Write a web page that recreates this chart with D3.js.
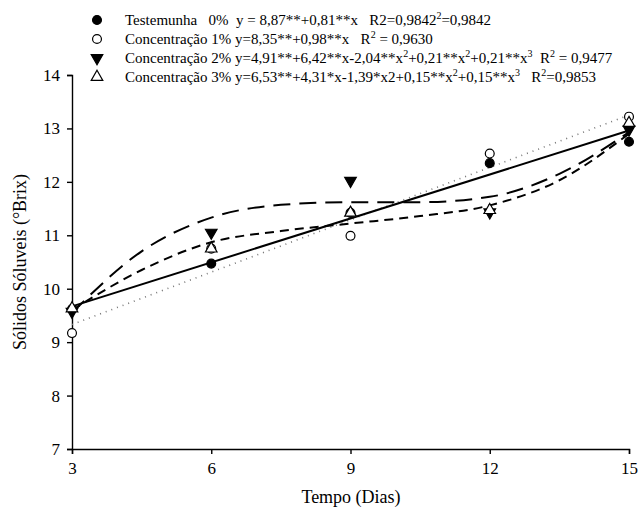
<!DOCTYPE html>
<html>
<head>
<meta charset="utf-8">
<script src="https://cdn.jsdelivr.net/npm/d3@7"></script>
<style>
        body { margin: 0; background: white; }
        svg text { font-family: "Liberation Serif", "Times New Roman", Times, "DejaVu Serif", serif !important; fill: black; white-space: pre; }
</style>
</head>
<body>
<svg id="chart"></svg>
<script>

// days on the x axis
const days = [3, 6, 9, 12, 15];

// measured values (°Brix)
const testemunha = [9.62, 10.47, 11.42, 12.35, 12.75];
const conc1 = [9.17, 10.75, 10.99, 12.53, 13.22];
const conc2 = [9.57, 11.05, 12.02, 11.43, 12.98];
const conc3 = [9.63, 10.75, 11.42, 11.47, 13.10];

// fitted curves
const fitDays = [3, 4.5, 6, 7.5, 9, 10.5, 12, 13.5, 15];
const fitLineDays = [3, 15];
const fit0 = [9.67, 12.96];
const fit1 = [9.33, 13.25];
const fit2 = [9.55, 10.70, 11.33, 11.57, 11.62, 11.62, 11.72, 12.15, 12.93];
const fit3 = [9.60, 10.35, 10.87, 11.08, 11.22, 11.36, 11.56, 12.03, 12.90];

const yTicks = [7, 8, 9, 10, 11, 12, 13, 14];
const xTicks = [3, 6, 9, 12, 15];

// legend rows: [text, superscript?] pieces
const legendRows = [
        [["Testemunha   0%  y = 8,87**+0,81**x   R2=0,9842"], ["2", 1], ["=0,9842"]],
        [["Concentração 1% y=8,35**+0,98**x   R"], ["2", 1], [" = 0,9630"]],
        [["Concentração 2% y=4,91**+6,42**x-2,04**x"], ["2", 1], ["+0,21**x"], ["2", 1], ["+0,21**x"], ["3", 1], ["  R"], ["2", 1], [" = 0,9477"]],
        [["Concentração 3% y=6,53**+4,31*x-1,39*x2+0,15**x"], ["2", 1], ["+0,15**x"], ["3", 1], ["   R"], ["2", 1], ["=0,9853"]]
];

const FONT = "Liberation Serif, Times New Roman, serif";

const width = 638, height = 508;
const margin = {left: 72, right: 9, top: 75, bottom: 59};

const svg = d3.select("#chart").attr("width", width).attr("height", height)
        .attr("font-family", FONT);

const x = d3.scaleLinear().domain([3, 15]).range([margin.left, width - margin.right]);
const y = d3.scaleLinear().domain([7, 14]).range([height - margin.bottom, margin.top]);

// axes
const xAxis = svg.append("g")
        .attr("transform", `translate(0, ${height - margin.bottom})`)
        .call(d3.axisBottom(x).tickValues(xTicks).tickFormat(d3.format("d")).tickSizeOuter(0).tickSize(5).tickPadding(8));

const yAxis = svg.append("g")
        .attr("transform", `translate(${margin.left}, 0)`)
        .call(d3.axisLeft(y).tickValues(yTicks).tickFormat(d3.format("d")).tickSizeOuter(0).tickSize(5).tickPadding(7));

svg.selectAll("g").attr("font-family", FONT);
svg.selectAll(".domain, .tick line").attr("stroke", "black").attr("stroke-width", 1.4);
svg.selectAll(".tick text").attr("font-size", 17);

// axis titles
svg.append("text")
        .attr("x", 351).attr("y", 503)
        .attr("text-anchor", "middle")
        .attr("font-size", 18)
        .text("Tempo (Dias)");

svg.append("text")
        .attr("transform", `translate(26, ${y(10.5)}) rotate(-90)`)
        .attr("text-anchor", "middle")
        .attr("font-size", 18)
        .text("Sólidos Sóluveis (°Brix)");

// fitted lines
const line = d3.line().x(d => x(d[0])).y(d => y(d[1]));
const curve = d3.line().x(d => x(d[0])).y(d => y(d[1])).curve(d3.curveMonotoneX);

const plot = svg.append("g");

plot.append("path")
        .attr("d", line(d3.zip(fitLineDays, fit1)))
        .attr("fill", "none").attr("stroke", "#777").attr("stroke-width", 1.6)
        .attr("stroke-dasharray", "1,5");

plot.append("path")
        .attr("d", curve(d3.zip(fitDays, fit2)))
        .attr("fill", "none").attr("stroke", "black").attr("stroke-width", 2)
        .attr("stroke-dasharray", "17,9");

plot.append("path")
        .attr("d", curve(d3.zip(fitDays, fit3)))
        .attr("fill", "none").attr("stroke", "black").attr("stroke-width", 2)
        .attr("stroke-dasharray", "9,6");

plot.append("path")
        .attr("d", line(d3.zip(fitLineDays, fit0)))
        .attr("fill", "none").attr("stroke", "black").attr("stroke-width", 2);

// markers
const circle = d3.symbol().type(d3.symbolCircle).size(62);
const triUp = d3.symbol().type(d3.symbolTriangle).size(58);

function drawMarkers(values, type, fill, rotate){
        plot.append("g")
                .selectAll("path")
                .data(d3.zip(days, values))
                .join("path")
                .attr("d", type)
                .attr("transform", d => `translate(${x(d[0])}, ${y(d[1])}) rotate(${rotate})`)
                .attr("fill", fill)
                .attr("stroke", "black")
                .attr("stroke-width", 1.2);
}

drawMarkers(testemunha, circle, "black", 0);
drawMarkers(conc2, triUp, "black", 180);
drawMarkers(conc1, circle, "white", 0);
drawMarkers(conc3, triUp, "white", 0);

// legend
const legendMarkers = [[circle, "black", 0], [circle, "white", 0], [triUp, "black", 180], [triUp, "white", 0]];
const legend = svg.append("g");

legendRows.forEach((row, idx) => {
        let ry = 20 + idx * 19;
        let m = legendMarkers[idx];
        legend.append("path")
                .attr("d", m[0])
                .attr("transform", `translate(97, ${ry}) rotate(${m[2]})`)
                .attr("fill", m[1]).attr("stroke", "black").attr("stroke-width", 1.2);

        legend.append("text")
                .attr("x", 125).attr("y", ry + 5)
                .attr("font-size", 15)
                .attr("font-family", FONT)
                .selectAll("tspan")
                .data(row)
                .join("tspan")
                .attr("dy", (d, i) => {
                        let prev = i > 0 ? row[i - 1][1] : 0;
                        if(d[1] && !prev) return -6;
                        if(!d[1] && prev) return 6;
                        return 0;
                })
                .attr("font-size", d => d[1] ? 10 : 15)
                .text(d => d[0]);
});

</script>
</body>
</html>
